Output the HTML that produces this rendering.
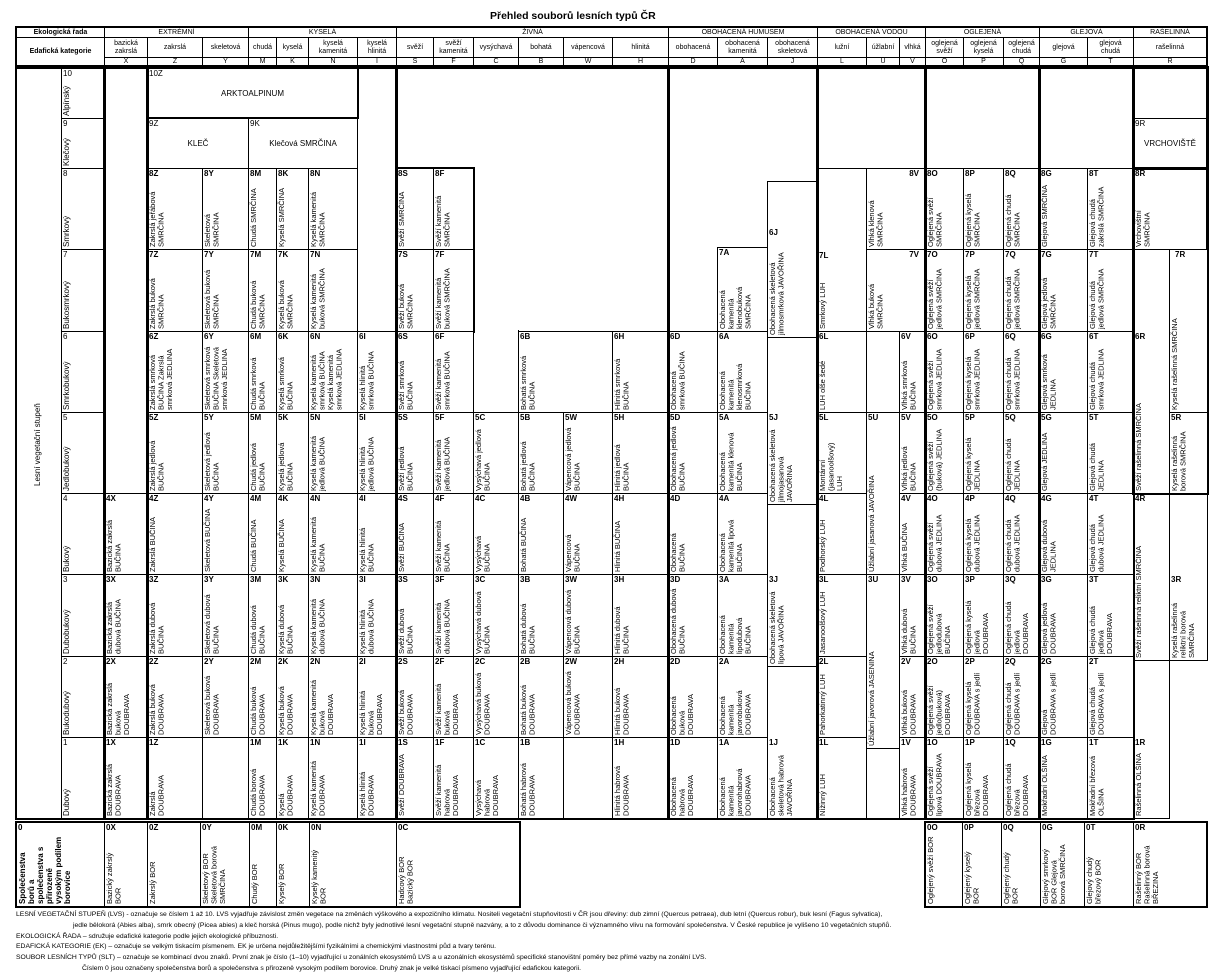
<!DOCTYPE html>
<html><head><meta charset="utf-8">
<style>
*{margin:0;padding:0}
body{width:1230px;height:979px;background:#fff;position:relative;overflow:hidden;font-family:"Liberation Sans",Arial,sans-serif;color:#000}
.c{position:absolute;border:1px solid #000;box-sizing:border-box;background:#fff}
.c b{position:absolute;left:1px;top:0;font-weight:bold;font-size:8px;line-height:10px}
.c i{font-style:normal;position:absolute;left:1px;top:13px;bottom:2px;writing-mode:vertical-rl;transform:rotate(180deg);font-size:7.5px;line-height:8.5px;white-space:normal}
.e{position:absolute;border:1px solid #000;box-sizing:border-box;background:#fff}
.g{position:absolute;border:2px solid #000;box-sizing:border-box;pointer-events:none}
.h{position:absolute;border:1px solid #000;box-sizing:border-box;display:flex;align-items:center;justify-content:center;text-align:center;font-size:7px;line-height:8px;background:#fff}
.m{position:absolute;left:0;right:0;top:0;bottom:0;display:flex;align-items:center;justify-content:center;font-size:8px}
.fn{position:absolute;font-size:6.8px;line-height:9px;white-space:nowrap}
</style></head><body>

<div style="position:absolute;left:490px;top:10px;font-size:10.5px;font-weight:bold;white-space:nowrap">Přehled souborů lesních typů ČR</div>

<!-- header -->
<div class="h" style="left:16px;top:27px;width:89px;height:11px;font-weight:bold">Ekologická řada</div>
<div class="h" style="left:16px;top:37px;width:89px;height:29px;font-weight:bold">Edafická kategorie</div>
<div class="h" style="left:104px;top:27px;width:145px;height:11px">EXTRÉMNÍ</div>
<div class="h" style="left:248px;top:27px;width:149px;height:11px">KYSELÁ</div>
<div class="h" style="left:396px;top:27px;width:273px;height:11px">ŽIVNÁ</div>
<div class="h" style="left:668px;top:27px;width:150px;height:11px">OBOHACENÁ HUMUSEM</div>
<div class="h" style="left:817px;top:27px;width:109px;height:11px">OBOHACENÁ VODOU</div>
<div class="h" style="left:925px;top:27px;width:115px;height:11px">OGLEJENÁ</div>
<div class="h" style="left:1039px;top:27px;width:95px;height:11px">GLEJOVÁ</div>
<div class="h" style="left:1133px;top:27px;width:74px;height:11px">RAŠELINNÁ</div>

<div class="h" style="left:104px;top:37px;width:44px;height:21px">bazická<br>zakrslá</div>
<div class="h" style="left:147px;top:37px;width:56px;height:21px">zakrslá</div>
<div class="h" style="left:202px;top:37px;width:47px;height:21px">skeletová</div>
<div class="h" style="left:248px;top:37px;width:29px;height:21px">chudá</div>
<div class="h" style="left:276px;top:37px;width:33px;height:21px">kyselá</div>
<div class="h" style="left:308px;top:37px;width:50px;height:21px">kyselá<br>kamenitá</div>
<div class="h" style="left:357px;top:37px;width:40px;height:21px">kyselá<br>hlinitá</div>
<div class="h" style="left:396px;top:37px;width:38px;height:21px">svěží</div>
<div class="h" style="left:433px;top:37px;width:41px;height:21px">svěží<br>kamenitá</div>
<div class="h" style="left:473px;top:37px;width:46px;height:21px">vysýchavá</div>
<div class="h" style="left:518px;top:37px;width:46px;height:21px">bohatá</div>
<div class="h" style="left:563px;top:37px;width:50px;height:21px">vápencová</div>
<div class="h" style="left:612px;top:37px;width:57px;height:21px">hlinitá</div>
<div class="h" style="left:668px;top:37px;width:50px;height:21px">obohacená</div>
<div class="h" style="left:717px;top:37px;width:51px;height:21px">obohacená<br>kamenitá</div>
<div class="h" style="left:767px;top:37px;width:51px;height:21px">obohacená<br>skeletová</div>
<div class="h" style="left:817px;top:37px;width:50px;height:21px">lužní</div>
<div class="h" style="left:866px;top:37px;width:34px;height:21px">úžlabní</div>
<div class="h" style="left:899px;top:37px;width:27px;height:21px">vlhká</div>
<div class="h" style="left:925px;top:37px;width:39px;height:21px">oglejená<br>svěží</div>
<div class="h" style="left:963px;top:37px;width:41px;height:21px">oglejená<br>kyselá</div>
<div class="h" style="left:1003px;top:37px;width:37px;height:21px">oglejená<br>chudá</div>
<div class="h" style="left:1039px;top:37px;width:49px;height:21px">glejová</div>
<div class="h" style="left:1087px;top:37px;width:47px;height:21px">glejová<br>chudá</div>
<div class="h" style="left:1133px;top:37px;width:74px;height:21px">rašelinná</div>

<div class="h" style="left:104px;top:57px;width:44px;height:9px">X</div>
<div class="h" style="left:147px;top:57px;width:56px;height:9px">Z</div>
<div class="h" style="left:202px;top:57px;width:47px;height:9px">Y</div>
<div class="h" style="left:248px;top:57px;width:29px;height:9px">M</div>
<div class="h" style="left:276px;top:57px;width:33px;height:9px">K</div>
<div class="h" style="left:308px;top:57px;width:50px;height:9px">N</div>
<div class="h" style="left:357px;top:57px;width:40px;height:9px">I</div>
<div class="h" style="left:396px;top:57px;width:38px;height:9px">S</div>
<div class="h" style="left:433px;top:57px;width:41px;height:9px">F</div>
<div class="h" style="left:473px;top:57px;width:46px;height:9px">C</div>
<div class="h" style="left:518px;top:57px;width:46px;height:9px">B</div>
<div class="h" style="left:563px;top:57px;width:50px;height:9px">W</div>
<div class="h" style="left:612px;top:57px;width:57px;height:9px">H</div>
<div class="h" style="left:668px;top:57px;width:50px;height:9px">D</div>
<div class="h" style="left:717px;top:57px;width:51px;height:9px">A</div>
<div class="h" style="left:767px;top:57px;width:51px;height:9px">J</div>
<div class="h" style="left:817px;top:57px;width:50px;height:9px">L</div>
<div class="h" style="left:866px;top:57px;width:34px;height:9px">U</div>
<div class="h" style="left:899px;top:57px;width:27px;height:9px">V</div>
<div class="h" style="left:925px;top:57px;width:39px;height:9px">O</div>
<div class="h" style="left:963px;top:57px;width:41px;height:9px">P</div>
<div class="h" style="left:1003px;top:57px;width:37px;height:9px">Q</div>
<div class="h" style="left:1039px;top:57px;width:49px;height:9px">G</div>
<div class="h" style="left:1087px;top:57px;width:47px;height:9px">T</div>
<div class="h" style="left:1133px;top:57px;width:74px;height:9px">R</div>
<div class="g" style="left:15px;top:26px;width:1193px;height:42px"></div>

<!-- left stage column -->
<div class="e" style="left:16px;top:68px;width:46px;height:751px"></div>
<div style="position:absolute;left:33px;top:380px;height:130px;writing-mode:vertical-rl;transform:rotate(180deg);font-size:8px;text-align:center">Lesní vegetační stupeň</div>
<div class="c" style="left:61px;top:68px;width:44px;height:51px"><b style="font-weight:normal">10</b><i style="font-size:8px">Alpínský</i></div>
<div class="c" style="left:61px;top:118px;width:44px;height:51px"><b style="font-weight:normal">9</b><i style="font-size:8px">Klečový</i></div>
<div class="c" style="left:61px;top:168px;width:44px;height:82px"><b style="font-weight:normal">8</b><i style="font-size:8px">Smrkový</i></div>
<div class="c" style="left:61px;top:249px;width:44px;height:83px"><b style="font-weight:normal">7</b><i style="font-size:8px">Bukosmrkový</i></div>
<div class="c" style="left:61px;top:331px;width:44px;height:82px"><b style="font-weight:normal">6</b><i style="font-size:8px">Smrkobukový</i></div>
<div class="c" style="left:61px;top:412px;width:44px;height:82px"><b style="font-weight:normal">5</b><i style="font-size:8px">Jedlobukový</i></div>
<div class="c" style="left:61px;top:493px;width:44px;height:82px"><b style="font-weight:normal">4</b><i style="font-size:8px">Bukový</i></div>
<div class="c" style="left:61px;top:574px;width:44px;height:83px"><b style="font-weight:normal">3</b><i style="font-size:8px">Dubobukový</i></div>
<div class="c" style="left:61px;top:656px;width:44px;height:82px"><b style="font-weight:normal">2</b><i style="font-size:8px">Bukodubový</i></div>
<div class="c" style="left:61px;top:737px;width:44px;height:82px"><b style="font-weight:normal">1</b><i style="font-size:8px">Dubový</i></div>

<!-- X -->
<div class="e" style="left:104px;top:68px;width:44px;height:426px"></div>
<div class="c" style="left:104px;top:493px;width:44px;height:82px"><b>4X</b><i>Bazická zakrslá BUČINA</i></div>
<div class="c" style="left:104px;top:574px;width:44px;height:83px"><b>3X</b><i>Bazická zakrslá dubová BUČINA</i></div>
<div class="c" style="left:104px;top:656px;width:44px;height:82px"><b>2X</b><i>Bazická zakrslá buková DOUBRAVA</i></div>
<div class="c" style="left:104px;top:737px;width:44px;height:82px"><b>1X</b><i>Bazická zakrslá DOUBRAVA</i></div>

<!-- Z..N top -->
<div class="c" style="left:147px;top:68px;width:211px;height:51px"><b style="font-weight:normal">10Z</b><div class="m">ARKTOALPINUM</div></div>
<div class="c" style="left:147px;top:118px;width:102px;height:51px"><b style="font-weight:normal">9Z</b><div class="m">KLEČ</div></div>
<div class="c" style="left:248px;top:118px;width:110px;height:51px"><b style="font-weight:normal">9K</b><div class="m">Klečová SMRČINA</div></div>
<div class="e" style="left:357px;top:68px;width:40px;height:264px"></div>

<!-- row 8 -->
<div class="c" style="left:147px;top:168px;width:56px;height:82px"><b>8Z</b><i>Zakrslá jeřábová SMRČINA</i></div>
<div class="c" style="left:202px;top:168px;width:47px;height:82px"><b>8Y</b><i>Skeletová SMRČINA</i></div>
<div class="c" style="left:248px;top:168px;width:29px;height:82px"><b>8M</b><i>Chudá SMRČINA</i></div>
<div class="c" style="left:276px;top:168px;width:33px;height:82px"><b>8K</b><i>Kyselá SMRČINA</i></div>
<div class="c" style="left:308px;top:168px;width:50px;height:82px"><b>8N</b><i>Kyselá kamenitá SMRČINA</i></div>
<!-- row 7 -->
<div class="c" style="left:147px;top:249px;width:56px;height:83px"><b>7Z</b><i>Zakrslá buková SMRČINA</i></div>
<div class="c" style="left:202px;top:249px;width:47px;height:83px"><b>7Y</b><i>Skeletová buková SMRČINA</i></div>
<div class="c" style="left:248px;top:249px;width:29px;height:83px"><b>7M</b><i>Chudá buková SMRČINA</i></div>
<div class="c" style="left:276px;top:249px;width:33px;height:83px"><b>7K</b><i>Kyselá buková SMRČINA</i></div>
<div class="c" style="left:308px;top:249px;width:50px;height:83px"><b>7N</b><i>Kyselá kamenitá buková SMRČINA</i></div>
<!-- row 6 -->
<div class="c" style="left:147px;top:331px;width:56px;height:82px"><b>6Z</b><i>Zakrslá smrková BUČINA Zakrslá smrková JEDLINA</i></div>
<div class="c" style="left:202px;top:331px;width:47px;height:82px"><b>6Y</b><i>Skeletová smrková BUČINA Skeletová smrková JEDLINA</i></div>
<div class="c" style="left:248px;top:331px;width:29px;height:82px"><b>6M</b><i>Chudá smrková BUČINA</i></div>
<div class="c" style="left:276px;top:331px;width:33px;height:82px"><b>6K</b><i>Kyselá smrková BUČINA</i></div>
<div class="c" style="left:308px;top:331px;width:50px;height:82px"><b>6N</b><i>Kyselá kamenitá smrková BUČINA Kyselá kamenitá smrková JEDLINA</i></div>
<div class="c" style="left:357px;top:331px;width:40px;height:82px"><b>6I</b><i>Kyselá hlinitá smrková BUČINA</i></div>
<!-- row 5 -->
<div class="c" style="left:147px;top:412px;width:56px;height:82px"><b>5Z</b><i>Zakrslá jedlová BUČINA</i></div>
<div class="c" style="left:202px;top:412px;width:47px;height:82px"><b>5Y</b><i>Skeletová jedlová BUČINA</i></div>
<div class="c" style="left:248px;top:412px;width:29px;height:82px"><b>5M</b><i>Chudá jedlová BUČINA</i></div>
<div class="c" style="left:276px;top:412px;width:33px;height:82px"><b>5K</b><i>Kyselá jedlová BUČINA</i></div>
<div class="c" style="left:308px;top:412px;width:50px;height:82px"><b>5N</b><i>Kyselá kamenitá jedlová BUČINA</i></div>
<div class="c" style="left:357px;top:412px;width:40px;height:82px"><b>5I</b><i>Kyselá hlinitá jedlová BUČINA</i></div>
<!-- row 4 -->
<div class="c" style="left:147px;top:493px;width:56px;height:82px"><b>4Z</b><i>Zakrslá BUČINA</i></div>
<div class="c" style="left:202px;top:493px;width:47px;height:82px"><b>4Y</b><i>Skeletová BUČINA</i></div>
<div class="c" style="left:248px;top:493px;width:29px;height:82px"><b>4M</b><i>Chudá BUČINA</i></div>
<div class="c" style="left:276px;top:493px;width:33px;height:82px"><b>4K</b><i>Kyselá BUČINA</i></div>
<div class="c" style="left:308px;top:493px;width:50px;height:82px"><b>4N</b><i>Kyselá kamenitá BUČINA</i></div>
<div class="c" style="left:357px;top:493px;width:40px;height:82px"><b>4I</b><i>Kyselá hlinitá BUČINA</i></div>
<!-- row 3 -->
<div class="c" style="left:147px;top:574px;width:56px;height:83px"><b>3Z</b><i>Zakrslá dubová BUČINA</i></div>
<div class="c" style="left:202px;top:574px;width:47px;height:83px"><b>3Y</b><i>Skeletová dubová BUČINA</i></div>
<div class="c" style="left:248px;top:574px;width:29px;height:83px"><b>3M</b><i>Chudá dubová BUČINA</i></div>
<div class="c" style="left:276px;top:574px;width:33px;height:83px"><b>3K</b><i>Kyselá dubová BUČINA</i></div>
<div class="c" style="left:308px;top:574px;width:50px;height:83px"><b>3N</b><i>Kyselá kamenitá dubová BUČINA</i></div>
<div class="c" style="left:357px;top:574px;width:40px;height:83px"><b>3I</b><i>Kyselá hlinitá dubová BUČINA</i></div>
<!-- row 2 -->
<div class="c" style="left:147px;top:656px;width:56px;height:82px"><b>2Z</b><i>Zakrslá buková DOUBRAVA</i></div>
<div class="c" style="left:202px;top:656px;width:47px;height:82px"><b>2Y</b><i>Skeletová buková DOUBRAVA</i></div>
<div class="c" style="left:248px;top:656px;width:29px;height:82px"><b>2M</b><i>Chudá buková DOUBRAVA</i></div>
<div class="c" style="left:276px;top:656px;width:33px;height:82px"><b>2K</b><i>Kyselá buková DOUBRAVA</i></div>
<div class="c" style="left:308px;top:656px;width:50px;height:82px"><b>2N</b><i>Kyselá kamenitá buková DOUBRAVA</i></div>
<div class="c" style="left:357px;top:656px;width:40px;height:82px"><b>2I</b><i>Kyselá hlinitá buková DOUBRAVA</i></div>
<!-- row 1 -->
<div class="c" style="left:147px;top:737px;width:56px;height:82px"><b>1Z</b><i>Zakrslá DOUBRAVA</i></div>
<div class="c" style="left:248px;top:737px;width:29px;height:82px"><b>1M</b><i>Chudá borová DOUBRAVA</i></div>
<div class="c" style="left:276px;top:737px;width:33px;height:82px"><b>1K</b><i>Kyselá DOUBRAVA</i></div>
<div class="c" style="left:308px;top:737px;width:50px;height:82px"><b>1N</b><i>Kyselá kamenitá DOUBRAVA</i></div>
<div class="c" style="left:357px;top:737px;width:40px;height:82px"><b>1I</b><i>Kyselá hlinitá DOUBRAVA</i></div>

<!-- ŽIVNÁ -->
<div class="e" style="left:396px;top:68px;width:273px;height:101px"></div>
<div class="e" style="left:473px;top:167px;width:196px;height:165px;border-top:none"></div>
<div class="e" style="left:473px;top:330px;width:46px;height:83px;border-top:none"></div>
<div class="c" style="left:396px;top:168px;width:38px;height:82px"><b>8S</b><i>Svěží SMRČINA</i></div>
<div class="c" style="left:433px;top:168px;width:41px;height:82px"><b>8F</b><i>Svěží kamenitá SMRČINA</i></div>
<div class="c" style="left:396px;top:249px;width:38px;height:83px"><b>7S</b><i>Svěží buková SMRČINA</i></div>
<div class="c" style="left:433px;top:249px;width:41px;height:83px"><b>7F</b><i>Svěží kamenitá buková SMRČINA</i></div>
<div class="g" style="left:395px;top:167px;width:80px;height:166px"></div>
<div class="c" style="left:396px;top:331px;width:38px;height:82px"><b>6S</b><i>Svěží smrková BUČINA</i></div>
<div class="c" style="left:433px;top:331px;width:41px;height:82px"><b>6F</b><i>Svěží kamenitá smrková BUČINA</i></div>
<div class="c" style="left:518px;top:331px;width:95px;height:82px"><b>6B</b><i>Bohatá smrková BUČINA</i></div>
<div class="c" style="left:612px;top:331px;width:57px;height:82px"><b>6H</b><i>Hlinitá smrková BUČINA</i></div>

<div class="c" style="left:396px;top:412px;width:38px;height:82px"><b>5S</b><i>Svěží jedlová BUČINA</i></div>
<div class="c" style="left:433px;top:412px;width:41px;height:82px"><b>5F</b><i>Svěží kamenitá jedlová BUČINA</i></div>
<div class="c" style="left:473px;top:412px;width:46px;height:82px"><b>5C</b><i>Vysýchavá jedlová BUČINA</i></div>
<div class="c" style="left:518px;top:412px;width:46px;height:82px"><b>5B</b><i>Bohatá jedlová BUČINA</i></div>
<div class="c" style="left:563px;top:412px;width:50px;height:82px"><b>5W</b><i>Vápencová jedlová BUČINA</i></div>
<div class="c" style="left:612px;top:412px;width:57px;height:82px"><b>5H</b><i>Hlinitá jedlová BUČINA</i></div>

<div class="c" style="left:396px;top:493px;width:38px;height:82px"><b>4S</b><i>Svěží BUČINA</i></div>
<div class="c" style="left:433px;top:493px;width:41px;height:82px"><b>4F</b><i>Svěží kamenitá BUČINA</i></div>
<div class="c" style="left:473px;top:493px;width:46px;height:82px"><b>4C</b><i>Vysýchavá BUČINA</i></div>
<div class="c" style="left:518px;top:493px;width:46px;height:82px"><b>4B</b><i>Bohatá BUČINA</i></div>
<div class="c" style="left:563px;top:493px;width:50px;height:82px"><b>4W</b><i>Vápencová BUČINA</i></div>
<div class="c" style="left:612px;top:493px;width:57px;height:82px"><b>4H</b><i>Hlinitá BUČINA</i></div>

<div class="c" style="left:396px;top:574px;width:38px;height:83px"><b>3S</b><i>Svěží dubová BUČINA</i></div>
<div class="c" style="left:433px;top:574px;width:41px;height:83px"><b>3F</b><i>Svěží kamenitá dubová BUČINA</i></div>
<div class="c" style="left:473px;top:574px;width:46px;height:83px"><b>3C</b><i>Vysýchavá dubová BUČINA</i></div>
<div class="c" style="left:518px;top:574px;width:46px;height:83px"><b>3B</b><i>Bohatá dubová BUČINA</i></div>
<div class="c" style="left:563px;top:574px;width:50px;height:83px"><b>3W</b><i>Vápencová dubová BUČINA</i></div>
<div class="c" style="left:612px;top:574px;width:57px;height:83px"><b>3H</b><i>Hlinitá dubová BUČINA</i></div>

<div class="c" style="left:396px;top:656px;width:38px;height:82px"><b>2S</b><i>Svěží buková DOUBRAVA</i></div>
<div class="c" style="left:433px;top:656px;width:41px;height:82px"><b>2F</b><i>Svěží kamenitá buková DOUBRAVA</i></div>
<div class="c" style="left:473px;top:656px;width:46px;height:82px"><b>2C</b><i>Vysýchavá buková DOUBRAVA</i></div>
<div class="c" style="left:518px;top:656px;width:46px;height:82px"><b>2B</b><i>Bohatá buková DOUBRAVA</i></div>
<div class="c" style="left:563px;top:656px;width:50px;height:82px"><b>2W</b><i>Vápencová buková DOUBRAVA</i></div>
<div class="c" style="left:612px;top:656px;width:57px;height:82px"><b>2H</b><i>Hlinitá buková DOUBRAVA</i></div>

<div class="c" style="left:396px;top:737px;width:38px;height:82px"><b>1S</b><i>Svěží DOUBRAVA</i></div>
<div class="c" style="left:433px;top:737px;width:41px;height:82px"><b>1F</b><i>Svěží kamenitá habrová DOUBRAVA</i></div>
<div class="c" style="left:473px;top:737px;width:46px;height:82px"><b>1C</b><i>Vysýchavá habrová DOUBRAVA</i></div>
<div class="c" style="left:518px;top:737px;width:46px;height:82px"><b>1B</b><i>Bohatá habrová DOUBRAVA</i></div>
<div class="c" style="left:612px;top:737px;width:57px;height:82px"><b>1H</b><i>Hlinitá habrová DOUBRAVA</i></div>

<!-- OBOHACENÁ HUMUSEM -->
<div class="e" style="left:668px;top:68px;width:150px;height:264px"></div>
<div class="c" style="left:717px;top:247px;width:51px;height:85px"><b>7A</b><i>Obohacená kamenitá klenobuková SMRČINA</i></div>
<div class="c" style="left:767px;top:181px;width:51px;height:157px"><b style="top:46px">6J</b><i style="top:58px">Obohacená skeletová jilmosmrková JAVOŘINA</i></div>
<div class="c" style="left:668px;top:331px;width:50px;height:82px"><b>6D</b><i>Obohacená smrková BUČINA</i></div>
<div class="c" style="left:717px;top:331px;width:51px;height:82px"><b>6A</b><i>Obohacená kamenitá klenosmrková BUČINA</i></div>
<div class="c" style="left:668px;top:412px;width:50px;height:82px"><b>5D</b><i>Obohacená jedlová BUČINA</i></div>
<div class="c" style="left:717px;top:412px;width:51px;height:82px"><b>5A</b><i>Obohacená kamenitá klenová BUČINA</i></div>
<div class="c" style="left:767px;top:337px;width:51px;height:168px"><b style="top:75px">5J</b><i style="top:88px">Obohacená skeletová jilmojasanová JAVOŘINA</i></div>
<div class="c" style="left:668px;top:493px;width:50px;height:82px"><b>4D</b><i>Obohacená BUČINA</i></div>
<div class="c" style="left:717px;top:493px;width:51px;height:82px"><b>4A</b><i>Obohacená kamenitá lipová BUČINA</i></div>
<div class="c" style="left:668px;top:574px;width:50px;height:83px"><b>3D</b><i>Obohacená dubová BUČINA</i></div>
<div class="c" style="left:717px;top:574px;width:51px;height:83px"><b>3A</b><i>Obohacená kamenitá lipodubová BUČINA</i></div>
<div class="c" style="left:767px;top:504px;width:51px;height:163px"><b style="top:70px">3J</b><i style="top:83px">Obohacená skeletová lipová JAVOŘINA</i></div>
<div class="c" style="left:668px;top:656px;width:50px;height:82px"><b>2D</b><i>Obohacená buková DOUBRAVA</i></div>
<div class="c" style="left:717px;top:656px;width:51px;height:82px"><b>2A</b><i>Obohacená kamenitá javorobuková DOUBRAVA</i></div>
<div class="c" style="left:668px;top:737px;width:50px;height:82px"><b>1D</b><i>Obohacená habrová DOUBRAVA</i></div>
<div class="c" style="left:717px;top:737px;width:51px;height:82px"><b>1A</b><i>Obohacená kamenitá javorohabrová DOUBRAVA</i></div>
<div class="c" style="left:767px;top:666px;width:51px;height:153px"><b style="top:71px">1J</b><i style="top:84px">Obohacená skeletová habrová JAVOŘINA</i></div>

<!-- OBOHACENÁ VODOU -->
<div class="e" style="left:817px;top:68px;width:109px;height:101px"></div>
<div class="c" style="left:817px;top:168px;width:50px;height:164px"><b style="top:82px">7L</b><i style="top:95px">Smrkový LUH</i></div>
<div class="c" style="left:866px;top:168px;width:60px;height:82px"><b style="left:auto;right:6px">8V</b><i>Vlhká klenová SMRČINA</i></div>
<div class="c" style="left:866px;top:249px;width:60px;height:83px"><b style="left:auto;right:6px">7V</b><i>Vlhká buková SMRČINA</i></div>
<div class="c" style="left:817px;top:331px;width:50px;height:82px"><b>6L</b><i>LUH olše šedé</i></div>
<div class="e" style="left:866px;top:331px;width:34px;height:82px"></div>
<div class="c" style="left:899px;top:331px;width:27px;height:82px"><b>6V</b><i>Vlhká smrková BUČINA</i></div>
<div class="c" style="left:817px;top:412px;width:50px;height:82px"><b>5L</b><i>Montánní (jasanoolšový) LUH</i></div>
<div class="c" style="left:866px;top:412px;width:34px;height:163px"><b>5U</b><i style="top:60px">Úžlabní jasanová JAVOŘINA</i></div>
<div class="c" style="left:899px;top:412px;width:27px;height:82px"><b>5V</b><i>Vlhká jedlová BUČINA</i></div>
<div class="c" style="left:817px;top:493px;width:50px;height:82px"><b>4L</b><i>Podhorský LUH</i></div>
<div class="c" style="left:899px;top:493px;width:27px;height:82px"><b>4V</b><i>Vlhká BUČINA</i></div>
<div class="c" style="left:817px;top:574px;width:50px;height:83px"><b>3L</b><i>Jasanoolšový LUH</i></div>
<div class="c" style="left:866px;top:574px;width:34px;height:175px"><b>3U</b><i style="top:60px">Úžlabní javorová JASENINA</i></div>
<div class="c" style="left:899px;top:574px;width:27px;height:83px"><b>3V</b><i>Vlhká dubová BUČINA</i></div>
<div class="c" style="left:817px;top:656px;width:50px;height:82px"><b>2L</b><i>Pahorkatinný LUH</i></div>
<div class="c" style="left:899px;top:656px;width:27px;height:82px"><b>2V</b><i>Vlhká buková DOUBRAVA</i></div>
<div class="c" style="left:817px;top:737px;width:50px;height:82px"><b>1L</b><i>Nížinný LUH</i></div>
<div class="c" style="left:899px;top:737px;width:27px;height:82px"><b>1V</b><i>Vlhká habrová DOUBRAVA</i></div>

<!-- OGLEJENÁ / GLEJOVÁ -->
<div class="e" style="left:925px;top:68px;width:115px;height:101px"></div>
<div class="e" style="left:1039px;top:68px;width:95px;height:101px"></div>

<div class="c" style="left:925px;top:168px;width:39px;height:82px"><b>8O</b><i>Oglejená svěží SMRČINA</i></div>
<div class="c" style="left:963px;top:168px;width:41px;height:82px"><b>8P</b><i>Oglejená kyselá SMRČINA</i></div>
<div class="c" style="left:1003px;top:168px;width:37px;height:82px"><b>8Q</b><i>Oglejená chudá SMRČINA</i></div>
<div class="c" style="left:1039px;top:168px;width:49px;height:82px"><b>8G</b><i>Glejová SMRČINA</i></div>
<div class="c" style="left:1087px;top:168px;width:47px;height:82px"><b>8T</b><i>Glejová chudá zakrslá SMRČINA</i></div>

<div class="c" style="left:925px;top:249px;width:39px;height:83px"><b>7O</b><i>Oglejená svěží jedlová SMRČINA</i></div>
<div class="c" style="left:963px;top:249px;width:41px;height:83px"><b>7P</b><i>Oglejená kyselá jedlová SMRČINA</i></div>
<div class="c" style="left:1003px;top:249px;width:37px;height:83px"><b>7Q</b><i>Oglejená chudá jedlová SMRČINA</i></div>
<div class="c" style="left:1039px;top:249px;width:49px;height:83px"><b>7G</b><i>Glejová jedlová SMRČINA</i></div>
<div class="c" style="left:1087px;top:249px;width:47px;height:83px"><b>7T</b><i>Glejová chudá jedlová SMRČINA</i></div>

<div class="c" style="left:925px;top:331px;width:39px;height:82px"><b>6O</b><i>Oglejená svěží smrková JEDLINA</i></div>
<div class="c" style="left:963px;top:331px;width:41px;height:82px"><b>6P</b><i>Oglejená kyselá smrková JEDLINA</i></div>
<div class="c" style="left:1003px;top:331px;width:37px;height:82px"><b>6Q</b><i>Oglejená chudá smrková JEDLINA</i></div>
<div class="c" style="left:1039px;top:331px;width:49px;height:82px"><b>6G</b><i>Glejová smrková JEDLINA</i></div>
<div class="c" style="left:1087px;top:331px;width:47px;height:82px"><b>6T</b><i>Glejová chudá smrková JEDLINA</i></div>

<div class="c" style="left:925px;top:412px;width:39px;height:82px"><b>5O</b><i>Oglejená svěží (buková) JEDLINA</i></div>
<div class="c" style="left:963px;top:412px;width:41px;height:82px"><b>5P</b><i>Oglejená kyselá JEDLINA</i></div>
<div class="c" style="left:1003px;top:412px;width:37px;height:82px"><b>5Q</b><i>Oglejená chudá JEDLINA</i></div>
<div class="c" style="left:1039px;top:412px;width:49px;height:82px"><b>5G</b><i>Glejová JEDLINA</i></div>
<div class="c" style="left:1087px;top:412px;width:47px;height:82px"><b>5T</b><i>Glejová chudá JEDLINA</i></div>

<div class="c" style="left:925px;top:493px;width:39px;height:82px"><b>4O</b><i>Oglejená svěží dubová JEDLINA</i></div>
<div class="c" style="left:963px;top:493px;width:41px;height:82px"><b>4P</b><i>Oglejená kyselá dubová JEDLINA</i></div>
<div class="c" style="left:1003px;top:493px;width:37px;height:82px"><b>4Q</b><i>Oglejená chudá dubová JEDLINA</i></div>
<div class="c" style="left:1039px;top:493px;width:49px;height:82px"><b>4G</b><i>Glejová dubová JEDLINA</i></div>
<div class="c" style="left:1087px;top:493px;width:47px;height:82px"><b>4T</b><i>Glejová chudá dubová JEDLINA</i></div>

<div class="c" style="left:925px;top:574px;width:39px;height:83px"><b>3O</b><i>Oglejená svěží jedlodubová BUČINA</i></div>
<div class="c" style="left:963px;top:574px;width:41px;height:83px"><b>3P</b><i>Oglejená kyselá jedlová DOUBRAVA</i></div>
<div class="c" style="left:1003px;top:574px;width:37px;height:83px"><b>3Q</b><i>Oglejená chudá jedlová DOUBRAVA</i></div>
<div class="c" style="left:1039px;top:574px;width:49px;height:83px"><b>3G</b><i>Glejová jedlová DOUBRAVA</i></div>
<div class="c" style="left:1087px;top:574px;width:47px;height:83px"><b>3T</b><i>Glejová chudá jedlová DOUBRAVA</i></div>

<div class="c" style="left:925px;top:656px;width:39px;height:82px"><b>2O</b><i>Oglejená svěží jedlo(buková) DOUBRAVA</i></div>
<div class="c" style="left:963px;top:656px;width:41px;height:82px"><b>2P</b><i>Oglejená kyselá DOUBRAVA s jedlí</i></div>
<div class="c" style="left:1003px;top:656px;width:37px;height:82px"><b>2Q</b><i>Oglejená chudá DOUBRAVA s jedlí</i></div>
<div class="c" style="left:1039px;top:656px;width:49px;height:82px"><b>2G</b><i>Glejová DOUBRAVA s jedlí</i></div>
<div class="c" style="left:1087px;top:656px;width:47px;height:82px"><b>2T</b><i>Glejová chudá DOUBRAVA s jedlí</i></div>

<div class="c" style="left:925px;top:737px;width:39px;height:82px"><b>1O</b><i>Oglejená svěží lipová DOUBRAVA</i></div>
<div class="c" style="left:963px;top:737px;width:41px;height:82px"><b>1P</b><i>Oglejená kyselá březová DOUBRAVA</i></div>
<div class="c" style="left:1003px;top:737px;width:37px;height:82px"><b>1Q</b><i>Oglejená chudá březová DOUBRAVA</i></div>
<div class="c" style="left:1039px;top:737px;width:49px;height:82px"><b>1G</b><i>Mokřadní OLŠINA</i></div>
<div class="c" style="left:1087px;top:737px;width:47px;height:82px"><b>1T</b><i>Mokřadní březová OLŠINA</i></div>

<!-- RAŠELINNÁ -->
<div class="e" style="left:1133px;top:68px;width:74px;height:51px"></div>
<div class="c" style="left:1133px;top:118px;width:74px;height:51px"><b style="font-weight:normal">9R</b><div class="m">VRCHOVIŠTĚ</div></div>
<div class="c" style="left:1133px;top:168px;width:74px;height:82px"><b>8R</b><i>Vrchovištní SMRČINA</i></div>
<div class="c" style="left:1133px;top:249px;width:37px;height:245px"><b style="top:82px">6R</b><i style="top:95px">Svěží rašelinná SMRČINA</i></div>
<div class="c" style="left:1169px;top:249px;width:39px;height:164px"><b style="left:5px">7R</b><i>Kyselá rašelinná SMRČINA</i></div>
<div class="c" style="left:1169px;top:412px;width:39px;height:82px"><b>5R</b><i>Kyselá rašelinná borová SMRČINA</i></div>
<div class="c" style="left:1133px;top:493px;width:37px;height:168px"><b>4R</b><i>Svěží rašelinná reliktní SMRČINA</i></div>
<div class="c" style="left:1169px;top:493px;width:39px;height:168px"><b style="top:81px">3R</b><i style="top:94px">Kyselá rašelinná reliktní borová SMRČINA</i></div>
<div class="c" style="left:1133px;top:660px;width:37px;height:159px"><b style="top:77px">1R</b><i style="top:90px">Rašelinná OLŠINA</i></div>

<!-- thick group outlines -->
<div class="g" style="left:15px;top:66px;width:91px;height:754px"></div>
<div class="g" style="left:103px;top:66px;width:46px;height:754px"></div>
<div class="g" style="left:146px;top:66px;width:252px;height:754px"></div>
<div class="g" style="left:146px;top:66px;width:213px;height:53px"></div>
<div class="g" style="left:395px;top:66px;width:275px;height:754px"></div>
<div class="g" style="left:667px;top:66px;width:152px;height:754px"></div>
<div class="g" style="left:816px;top:66px;width:111px;height:754px"></div>
<div class="g" style="left:924px;top:66px;width:117px;height:754px"></div>
<div class="g" style="left:1038px;top:66px;width:97px;height:754px"></div>
<div class="g" style="left:1132px;top:66px;width:77px;height:104px"></div>
<div class="g" style="left:1132px;top:167px;width:77px;height:328px"></div>

<!-- row 0 -->
<div class="c" style="left:16px;top:822px;width:89px;height:85px"><b>0</b><i style="font-weight:bold;font-size:8px;line-height:9px">Společenstva borů a společenstva s přirozeně vysokým podílem borovice</i></div>
<div class="c" style="left:104px;top:822px;width:44px;height:85px"><b>0X</b><i>Bazický zakrslý BOR</i></div>
<div class="c" style="left:147px;top:822px;width:54px;height:85px"><b>0Z</b><i>Zakrslý BOR</i></div>
<div class="c" style="left:200px;top:822px;width:50px;height:85px"><b>0Y</b><i>Skeletový BOR Skeletová borová SMRČINA</i></div>
<div class="c" style="left:249px;top:822px;width:28px;height:85px"><b>0M</b><i>Chudý BOR</i></div>
<div class="c" style="left:276px;top:822px;width:34px;height:85px"><b>0K</b><i>Kyselý BOR</i></div>
<div class="c" style="left:309px;top:822px;width:88px;height:85px"><b>0N</b><i>Kyselý kamenitý BOR</i></div>
<div class="c" style="left:396px;top:822px;width:124px;height:85px"><b>0C</b><i>Hadcový BOR Bazický BOR</i></div>
<div class="g" style="left:15px;top:821px;width:506px;height:87px"></div>

<div class="c" style="left:925px;top:822px;width:38px;height:85px"><b>0O</b><i>Oglejený svěží BOR</i></div>
<div class="c" style="left:962px;top:822px;width:40px;height:85px"><b>0P</b><i>Oglejený kyselý BOR</i></div>
<div class="c" style="left:1001px;top:822px;width:40px;height:85px"><b>0Q</b><i>Oglejený chudý BOR</i></div>
<div class="c" style="left:1040px;top:822px;width:45px;height:85px"><b>0G</b><i>Glejový smrkový BOR Glejová borová SMRČINA</i></div>
<div class="c" style="left:1084px;top:822px;width:50px;height:85px"><b>0T</b><i>Glejový chudý březový BOR</i></div>
<div class="c" style="left:1133px;top:822px;width:74px;height:85px"><b>0R</b><i>Rašelinný BOR Rašelinná borová BŘEZINA</i></div>
<div class="g" style="left:924px;top:821px;width:284px;height:87px"></div>

<!-- footnotes -->
<div class="fn" style="left:16px;top:910px">LESNÍ VEGETAČNÍ STUPEŇ (LVS) - označuje se číslem 1 až 10. LVS vyjadřuje závislost změn vegetace na změnách výškového a expozičního klimatu. Nositeli vegetační stupňovitosti v ČR jsou dřeviny: dub zimní (Quercus petraea), dub letní (Quercus robur), buk lesní (Fagus sylvatica),</div>
<div class="fn" style="left:73px;top:921px">jedle bělokorá (Abies alba), smrk obecný (Picea abies) a kleč horská (Pinus mugo), podle nichž byly jednotlivé lesní vegetační stupně nazvány, a to z důvodu dominance či významného vlivu na formování společenstva. V České republice je vylišeno 10 vegetačních stupňů.</div>
<div class="fn" style="left:16px;top:932px">EKOLOGICKÁ ŘADA – sdružuje edafické kategorie podle jejich ekologické příbuznosti.</div>
<div class="fn" style="left:16px;top:942px">EDAFICKÁ KATEGORIE (EK) – označuje se velkým tiskacím písmenem. EK je určena nejdůležitějšími fyzikálními a chemickými vlastnostmi půd a tvary terénu.</div>
<div class="fn" style="left:16px;top:953px">SOUBOR LESNÍCH TYPŮ (SLT) – označuje se kombinací dvou znaků. První znak je číslo (1–10) vyjadřující u zonálních ekosystémů LVS a u azonálních ekosystémů specifické stanovištní poměry bez přímé vazby na zonální LVS.</div>
<div class="fn" style="left:82px;top:964px">Číslem 0 jsou označeny společenstva borů a společenstva s přirozeně vysokým podílem borovice. Druhý znak je velké tiskací písmeno vyjadřující edafickou kategorii.</div>

</body></html>
